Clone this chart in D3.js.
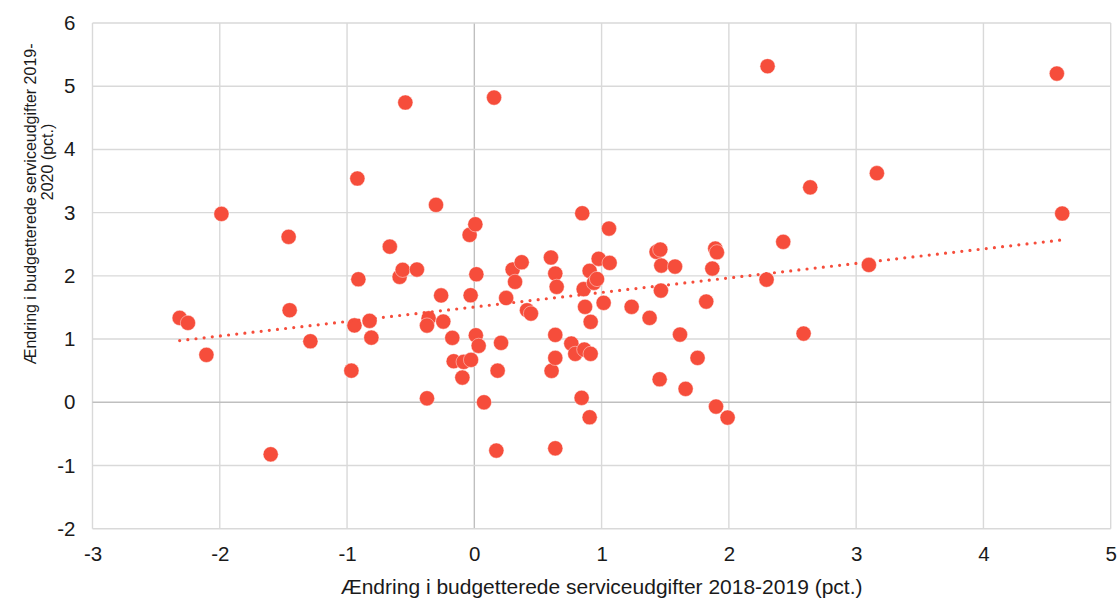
<!DOCTYPE html>
<html>
<head>
<meta charset="utf-8">
<script src="https://cdn.jsdelivr.net/npm/d3@7"></script>
<style>
  html, body { margin: 0; padding: 0; background: #fff; }
  svg { display: block; font-family: "Liberation Sans", Arial, sans-serif; }
</style>
</head>
<body>
<svg id="chart" width="1118" height="599"></svg>
<script>
// Change in budgeted service expenditure 2018-2019 (x) vs 2019-2020 (y), pct.
const xValues = [
  -2.315, -2.25, -2.105, -1.987, -1.60, -1.459, -1.451, -1.288, -0.966, -0.942,
  -0.919, -0.911, -0.823, -0.809, -0.664, -0.587, -0.563, -0.542, -0.451, -0.372,
  -0.359, -0.372, -0.301, -0.261, -0.244, -0.173, -0.162, -0.094, -0.084, -0.037,
  -0.029, -0.026, 0.008, 0.012, 0.016, 0.034, 0.076, 0.155, 0.173, 0.183,
  0.21, 0.25, 0.301, 0.32, 0.372, 0.414, 0.445, 0.602, 0.636,
  0.647, 0.607, 0.636, 0.636, 0.636, 0.762, 0.793, 0.843, 0.848, 0.859,
  0.864, 0.87, 0.906, 0.906, 0.914, 0.914, 0.94, 0.964, 0.977, 1.016,
  1.058, 1.063, 1.236, 1.377, 1.432, 1.461, 1.456, 1.466, 1.469, 1.577,
  1.616, 1.66, 1.754, 1.822, 1.87, 1.893, 1.906, 1.899, 1.99, 2.296,
  2.304, 2.427, 2.587, 2.639, 3.10, 3.163, 4.577, 4.619
];
const yValues = [
  1.335, 1.256, 0.75, 2.98, -0.823, 2.617, 1.456, 0.965, 0.50, 1.216,
  3.54, 1.946, 1.288, 1.022, 2.462, 1.984, 2.095, 4.742, 2.10, 0.063,
  1.329, 1.214, 3.123, 1.69, 1.277, 1.019, 0.649, 0.391, 0.639, 2.648,
  1.693, 0.671, 2.816, 1.06, 2.025, 0.893, 0.0, 4.82, -0.764, 0.50,
  0.94, 1.65, 2.10, 1.905, 2.215, 1.456, 1.403, 2.29, 2.036,
  1.826, 0.497, 1.066, 0.702, -0.728, 0.929, 0.766, 0.07, 2.99, 1.79,
  0.834, 1.51, 2.079, -0.237, 1.272, 0.766, 1.89, 1.95, 2.27, 1.573,
  2.748, 2.205, 1.51, 1.335, 2.38, 2.416, 0.364, 1.767, 2.163, 2.147,
  1.071, 0.212, 0.702, 1.593, 2.115, 2.432, 2.373, -0.068, -0.242, 1.94,
  5.316, 2.538, 1.087, 3.40, 2.173, 3.624, 5.20, 2.986
];
const xTicks = [-3, -2, -1, 0, 1, 2, 3, 4, 5];
const yTicks = [-2, -1, 0, 1, 2, 3, 4, 5, 6];
const xTitle = "Ændring i budgetterede serviceudgifter 2018-2019 (pct.)";
const yTitleLines = ["Ændring i budgetterede serviceudgifter 2019-", "2020 (pct.)"];

const points = xValues.map((x, i) => ({ x, y: yValues[i] }));

const svg = d3.select("#chart");
const plotLeft = 92.5, plotRight = 1110.7, plotTop = 23, plotBottom = 528.7;
const textColor = "#1a1a1a";

const x = d3.scaleLinear().domain([-3, 5]).range([plotLeft, plotRight]);
const y = d3.scaleLinear().domain([-2, 6]).range([plotBottom, plotTop]);

// Grid lines
const grid = svg.append("g");
grid.selectAll("line.v").data(xTicks).join("line")
  .attr("class", "v")
  .attr("x1", d => x(d)).attr("x2", d => x(d))
  .attr("y1", plotTop).attr("y2", plotBottom)
  .attr("stroke", d => d === 0 ? "#bfbfbf" : "#d9d9d9")
  .attr("stroke-width", 1.4);
grid.selectAll("line.h").data(yTicks).join("line")
  .attr("class", "h")
  .attr("y1", d => y(d)).attr("y2", d => y(d))
  .attr("x1", plotLeft).attr("x2", plotRight)
  .attr("stroke", d => d === 0 ? "#bfbfbf" : "#d9d9d9")
  .attr("stroke-width", 1.4);

// Axes labels via d3 axes (no domain/tick lines); plain hyphen minus like the source
const fmt = d => String(d);
const xAxis = svg.append("g")
  .attr("transform", `translate(0,${plotBottom})`)
  .call(d3.axisBottom(x).tickValues(xTicks).tickSize(0).tickPadding(18).tickFormat(fmt));
xAxis.select(".domain").remove();
xAxis.selectAll("text").attr("font-size", 20.5).attr("fill", textColor).attr("font-family", "Liberation Sans, Arial, sans-serif");

const yAxis = svg.append("g")
  .attr("transform", `translate(${plotLeft},0)`)
  .call(d3.axisLeft(y).tickValues(yTicks).tickSize(0).tickPadding(17).tickFormat(fmt));
yAxis.select(".domain").remove();
yAxis.selectAll("text").attr("font-size", 20.5).attr("fill", textColor).attr("font-family", "Liberation Sans, Arial, sans-serif");

// Points
svg.append("g").selectAll("circle").data(points).join("circle")
  .attr("cx", d => x(d.x)).attr("cy", d => y(d.y))
  .attr("r", 7.6)
  .attr("fill", "#f64d3b")
  .attr("stroke", "rgba(255,255,255,0.55)")
  .attr("stroke-width", 0.8);

// Linear trendline (least squares)
const mx = d3.mean(points, d => d.x), my = d3.mean(points, d => d.y);
const slope = d3.sum(points, d => (d.x - mx) * (d.y - my)) / d3.sum(points, d => (d.x - mx) ** 2);
const intercept = my - slope * mx;
const [xmin, xmax] = d3.extent(points, d => d.x);
svg.append("line")
  .attr("x1", x(xmin)).attr("y1", y(intercept + slope * xmin))
  .attr("x2", x(xmax)).attr("y2", y(intercept + slope * xmax))
  .attr("stroke", "#f64d3b")
  .attr("stroke-width", 3.2)
  .attr("stroke-linecap", "round")
  .attr("stroke-dasharray", "0 8.2");

// Axis titles
svg.append("text")
  .attr("x", (plotLeft + plotRight) / 2).attr("y", 594)
  .attr("text-anchor", "middle")
  .attr("font-size", 21).attr("fill", textColor)
  .text(xTitle);

svg.append("text")
  .attr("transform", "translate(36,204) rotate(-90)")
  .attr("text-anchor", "middle")
  .attr("font-size", 16).attr("fill", textColor)
  .text(yTitleLines[0]);
svg.append("text")
  .attr("transform", "translate(53,162) rotate(-90)")
  .attr("text-anchor", "middle")
  .attr("font-size", 16).attr("fill", textColor)
  .text(yTitleLines[1]);
</script>
</body>
</html>
